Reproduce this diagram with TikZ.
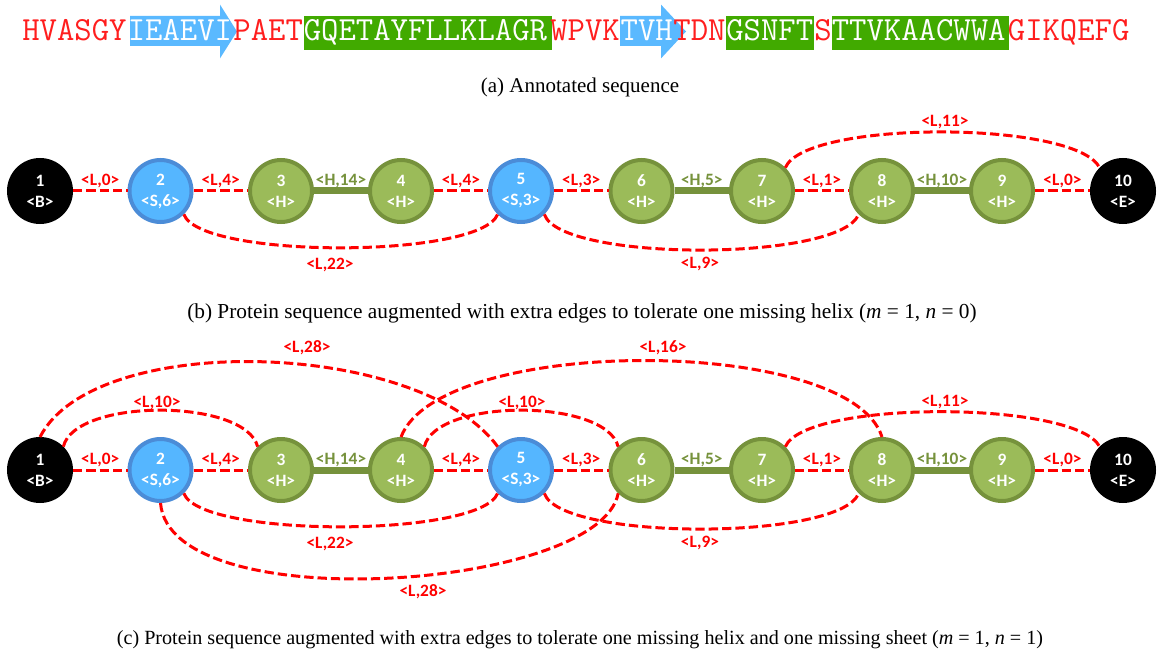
\documentclass[tikz,border=0pt]{standalone}
\usepackage{fontspec}
\setmainfont{Liberation Serif}
\newfontfamily\lblfont{Carlito}
\definecolor{seqred}{RGB}{255,30,30}
\definecolor{seqblue}{RGB}{90,185,255}
\definecolor{seqgreen}{RGB}{65,170,0}
\definecolor{hfill}{RGB}{155,187,89}
\definecolor{hborder}{RGB}{118,146,60}
\definecolor{sfill}{RGB}{85,182,255}
\definecolor{sborder}{RGB}{75,140,215}
\definecolor{edgered}{RGB}{255,0,0}
\definecolor{edgegreen}{RGB}{118,146,60}
\tikzset{
  gnode/.style={circle, minimum size=46.5pt, inner sep=0pt, line width=3pt,
    font=\lblfont\bfseries\fontsize{13}{15.75}\selectfont, text=white, align=center},
  hnode/.style={gnode, fill=hfill, draw=hborder},
  snode/.style={gnode, fill=sfill, draw=sborder},
  bnode/.style={gnode, fill=black, draw=black},
  redge/.style={draw=edgered, line width=2.25pt, dash pattern=on 7pt off 3pt},
  gedge/.style={draw=edgegreen, line width=5.25pt},
  lblbase/.style={font=\lblfont\bfseries\fontsize{13}{15}\selectfont, inner sep=0pt},
  rlbl/.style={lblbase, text=edgered, midway, yshift=7.5pt},
  glbl/.style={lblbase, text=edgegreen, midway, yshift=7.5pt},
  arclbl/.style={lblbase, text=edgered},
  captext/.style={font=\fontsize{15.75}{18}\selectfont, inner sep=0pt},
  seqseg/.style={anchor=base west, inner sep=0pt, font=\ttfamily\fontsize{25.3}{27}\selectfont},
  seqr/.style={seqseg, text=seqred},
  seqw/.style={seqseg, text=white},
}
\newcommand{\protrow}[2]{%
  \node[bnode] (#1-1) at (40,#2) {1\\<B>};
  \node[snode] (#1-2) at (160.5,#2) {2\\<S,6>};
  \node[hnode] (#1-3) at (281,#2) {3\\<H>};
  \node[hnode] (#1-4) at (401,#2) {4\\<H>};
  \node[snode] (#1-5) at (521,#2) {5\\<S,3>};
  \node[hnode] (#1-6) at (641.5,#2) {6\\<H>};
  \node[hnode] (#1-7) at (762,#2) {7\\<H>};
  \node[hnode] (#1-8) at (882,#2) {8\\<H>};
  \node[hnode] (#1-9) at (1002,#2) {9\\<H>};
  \node[bnode] (#1-10) at (1123,#2) {10\\<E>};
  \draw[redge] (#1-1) -- node[rlbl]{<L,0>} (#1-2);
  \draw[redge] (#1-2) -- node[rlbl]{<L,4>} (#1-3);
  \draw[gedge] (#1-3) -- node[glbl]{<H,14>} (#1-4);
  \draw[redge] (#1-4) -- node[rlbl]{<L,4>} (#1-5);
  \draw[redge] (#1-5) -- node[rlbl]{<L,3>} (#1-6);
  \draw[gedge] (#1-6) -- node[glbl]{<H,5>} (#1-7);
  \draw[redge] (#1-7) -- node[rlbl]{<L,1>} (#1-8);
  \draw[gedge] (#1-8) -- node[glbl]{<H,10>} (#1-9);
  \draw[redge] (#1-9) -- node[rlbl]{<L,0>} (#1-10);
}
\begin{document}
\begin{tikzpicture}[x=0.75pt,y=-0.75pt]
\useasboundingbox (0,0) rectangle (1160,656);
\fill[white] (0,0) rectangle (1160,656);
% (a) sequence highlights
\fill[seqblue] (130,16) -- (220,16) -- (220,4.6) -- (237,31.5) -- (220,58.4) -- (220,46) -- (130,46) -- cycle;
\fill[seqblue] (620,16) -- (661,16) -- (661,4.6) -- (686,31.5) -- (661,58.4) -- (661,46) -- (620,46) -- cycle;
\fill[seqgreen] (303.6,16) rectangle (552,50.5);
\fill[seqgreen] (726,16) rectangle (814,50.5);
\fill[seqgreen] (831.6,16) rectangle (1009,50.5);
\node[seqr] (s1) at (22,41) {HVASGY};
\node[seqw] (s2) at (127.6,41) {IEAEVI};
\node[seqr] (s3) at (233.2,41) {PAET};
\node[seqw] (s4) at (303.6,41) {GQETAYFLLKLAGR};
\node[seqr] (s5) at (550,41) {WPVK};
\node[seqw] (s6) at (620.4,41) {TVH};
\node[seqr] (s7) at (673.2,41) {TDN};
\node[seqw] (s8) at (726,41) {GSNFT};
\node[seqr] (s9) at (814,41) {S};
\node[seqw] (s10) at (831.6,41) {TTVKAACWWA};
\node[seqr] (s11) at (1007.6,41) {GIKQEFG};
\node[captext] (capa) at (580,87) {(a) Annotated sequence};
% (b)
\protrow{b}{191}
\draw[redge] (b-7.45) .. controls (805,120) and (1075,120) .. (b-10.135);
\node[arclbl] (lb11) at (945,122) {<L,11>};
\draw[redge] (b-2.-45) .. controls (200,259) and (480,259) .. (b-5.-135);
\node[arclbl] (lb22) at (330,265) {<L,22>};
\draw[redge] (b-5.-45) .. controls (560,262) and (840,262) .. (b-8.-135);
\node[arclbl] (lb9) at (700,264) {<L,9>};
\node[captext, font=\fontsize{16}{18}\selectfont] (capb) at (582,313) {(b) Protein sequence augmented with extra edges to tolerate one missing helix (\textit{m} = 1, \textit{n} = 0)};
% (c)
\protrow{c}{470}
\draw[redge] (c-1.90) .. controls (95,330) and (420,340) .. (c-5.135);
\node[arclbl] (lc28a) at (307,348) {<L,28>};
\draw[redge] (c-1.45) .. controls (75,398) and (245,398) .. (c-3.135);
\node[arclbl] (lc10a) at (157,403) {<L,10>};
\draw[redge] (c-4.90) .. controls (440,335) and (850,335) .. (c-8.90);
\node[arclbl] (lc16) at (663,348) {<L,16>};
\draw[redge] (c-4.45) .. controls (436,398) and (606,398) .. (c-6.135);
\node[arclbl] (lc10b) at (522,403) {<L,10>};
\draw[redge] (c-7.45) .. controls (805,400) and (1075,400) .. (c-10.135);
\node[arclbl] (lc11) at (945,402) {<L,11>};
\draw[redge] (c-2.-45) .. controls (200,538) and (480,538) .. (c-5.-135);
\node[arclbl] (lc22) at (330,544) {<L,22>};
\draw[redge] (c-5.-45) .. controls (560,541) and (840,541) .. (c-8.-135);
\node[arclbl] (lc9) at (700,543) {<L,9>};
\draw[redge] (c-2.-90) .. controls (170,620) and (600,590) .. (c-6.-135);
\node[arclbl] (lc28b) at (423,592) {<L,28>};
\node[captext, font=\fontsize{15.1}{18}\selectfont] (capc) at (580,640) {(c) Protein sequence augmented with extra edges to tolerate one missing helix and one missing sheet (\textit{m} = 1, \textit{n} = 1)};
\end{tikzpicture}
\end{document}
